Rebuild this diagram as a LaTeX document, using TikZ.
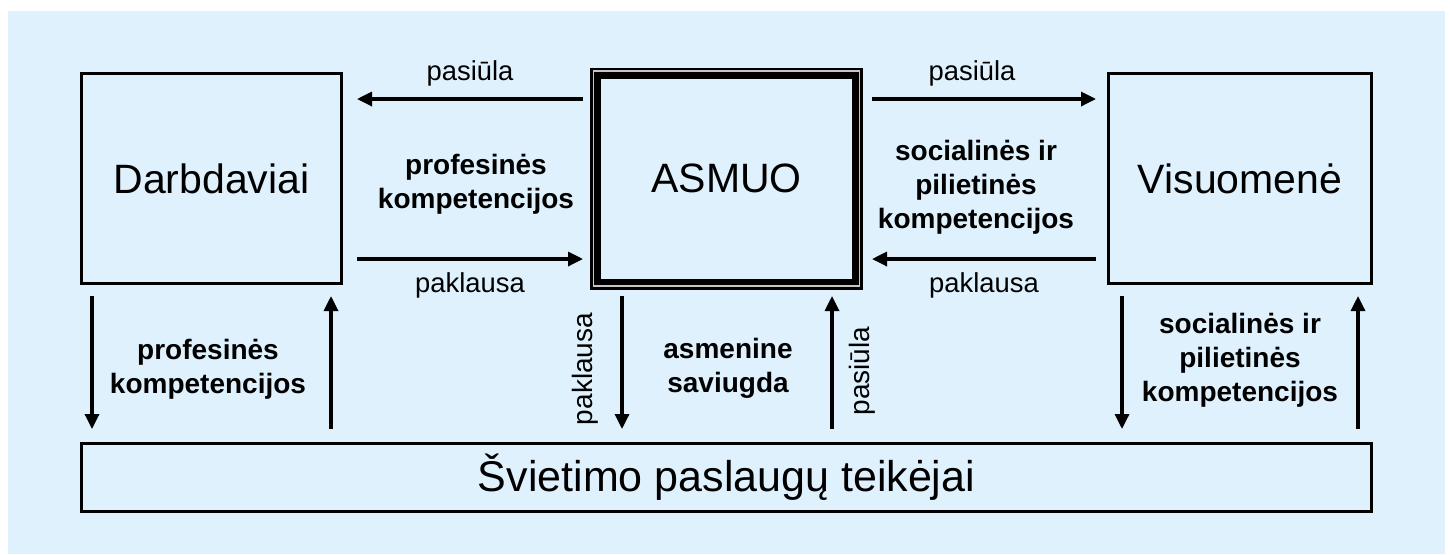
\documentclass[tikz,border=0pt]{standalone}
\usepackage{fontspec}
\setmainfont{Liberation Sans}
\usepackage{tikz}
\usepackage{xcolor}
\usetikzlibrary{arrows.meta, positioning, calc}
\definecolor{bgblue}{RGB}{223,241,252}

\begin{document}
\begin{tikzpicture}[x=0.5pt,y=-0.5pt]
		% Define styles for boxes, arrows and labels
		\tikzstyle{box} = [rectangle, draw=black, line width=1.5pt, outer sep=0pt, inner sep=0pt, font=\fontsize{20.5}{24}\selectfont]
		\tikzstyle{arrow} = [line width=1.65pt, -{Triangle[length=7.5pt,width=7pt]}]
		\tikzstyle{lbl} = [inner sep=0pt, font=\fontsize{13.7}{16}\selectfont]
		\tikzstyle{komp} = [inner sep=0pt, align=center, font=\fontsize{14}{17}\selectfont\bfseries]
		
		% Background
		\useasboundingbox (0,0) rectangle (1450,554);
		\fill[bgblue] (8,11) rectangle (1445,554);
		
		% Draw the boxes
		\node[box, minimum width=130pt, minimum height=105pt] (darb) at (211.5,178.5) {Darbdaviai};
		\node[box, line width=5.5pt, minimum width=131pt, minimum height=105.5pt] (asmuo) at (726.5,178.5) {ASMUO};
		\draw[gray!45, line width=0.65pt] ($(asmuo.north west)+(-2,-2)$) rectangle ($(asmuo.south east)+(2,2)$);
		\node[box, minimum width=131.5pt, minimum height=105pt] (visu) at (1240,178.5) {Visuomenė};
		\node[box, minimum width=645pt, minimum height=34pt, font=\fontsize{21.5}{24}\selectfont] (svietimas) at (726.5,477.5) {Švietimo paslaugų teikėjai};
		
		% Arrows between ASMUO and the side boxes
		\draw [arrow] ([xshift=-6.25pt,yshift=39.75pt]asmuo.west) -- node[lbl, above=5.75pt] {pasiūla} ([xshift=7.75pt,yshift=39.75pt]darb.east);
		\draw [arrow] ([xshift=7.75pt,yshift=-40.25pt]darb.east) -- node[lbl, below=5.75pt] {paklausa} ([xshift=-6.25pt,yshift=-40.25pt]asmuo.west);
		\draw [arrow] ([xshift=7.25pt,yshift=39.75pt]asmuo.east) -- node[lbl, above=5.75pt, xshift=-6pt] {pasiūla} ([xshift=-6.25pt,yshift=39.75pt]visu.west);
		\draw [arrow] ([xshift=-6.25pt,yshift=-40.25pt]visu.west) -- node[lbl, below=5.75pt] {paklausa} ([xshift=7.25pt,yshift=-40.25pt]asmuo.east);
		
		\node[komp] (kompA) at (476,184) {profesinės\\kompetencijos};
		\node[komp] (kompB) at (976,187) {socialinės ir\\pilietinės\\kompetencijos};
		
		% Arrows down to the education providers and back up
		\draw [arrow] ($(darb.south west)+(10.5,12.5)$) -- ($(darb.south west |- svietimas.north)+(10.5,-14.5)$);
		\draw [arrow] ($(darb.south east |- svietimas.north)+(-10.5,-14.5)$) -- ($(darb.south east)+(-10.5,12.5)$);
		\draw [arrow] ($(asmuo.south west)+(26.5,12)$) -- ($(asmuo.south west |- svietimas.north)+(26.5,-14.5)$);
		\draw [arrow] ($(asmuo.south east |- svietimas.north)+(-25.5,-14.5)$) -- ($(asmuo.south east)+(-25.5,12)$);
		\draw [arrow] ($(visu.south west)+(13.5,12.5)$) -- ($(visu.south west |- svietimas.north)+(13.5,-14.5)$);
		\draw [arrow] ($(visu.south east |- svietimas.north)+(-13.5,-14.5)$) -- ($(visu.south east)+(-13.5,12.5)$);
		
		\node[lbl, rotate=90, font=\fontsize{14}{16}\selectfont] (paklausaV) at (585,369) {paklausa};
		\node[lbl, rotate=90, font=\fontsize{14}{16}\selectfont] (pasiulaV) at (862,371) {pasiūla};
		
		\node[komp] (kompC) at (208,369) {profesinės\\kompetencijos};
		\node[komp] (kompD) at (728,368) {asmenine\\saviugda};
		\node[komp] (kompE) at (1240,360) {socialinės ir\\pilietinės\\kompetencijos};
	
	\end{tikzpicture}
\end{document}
